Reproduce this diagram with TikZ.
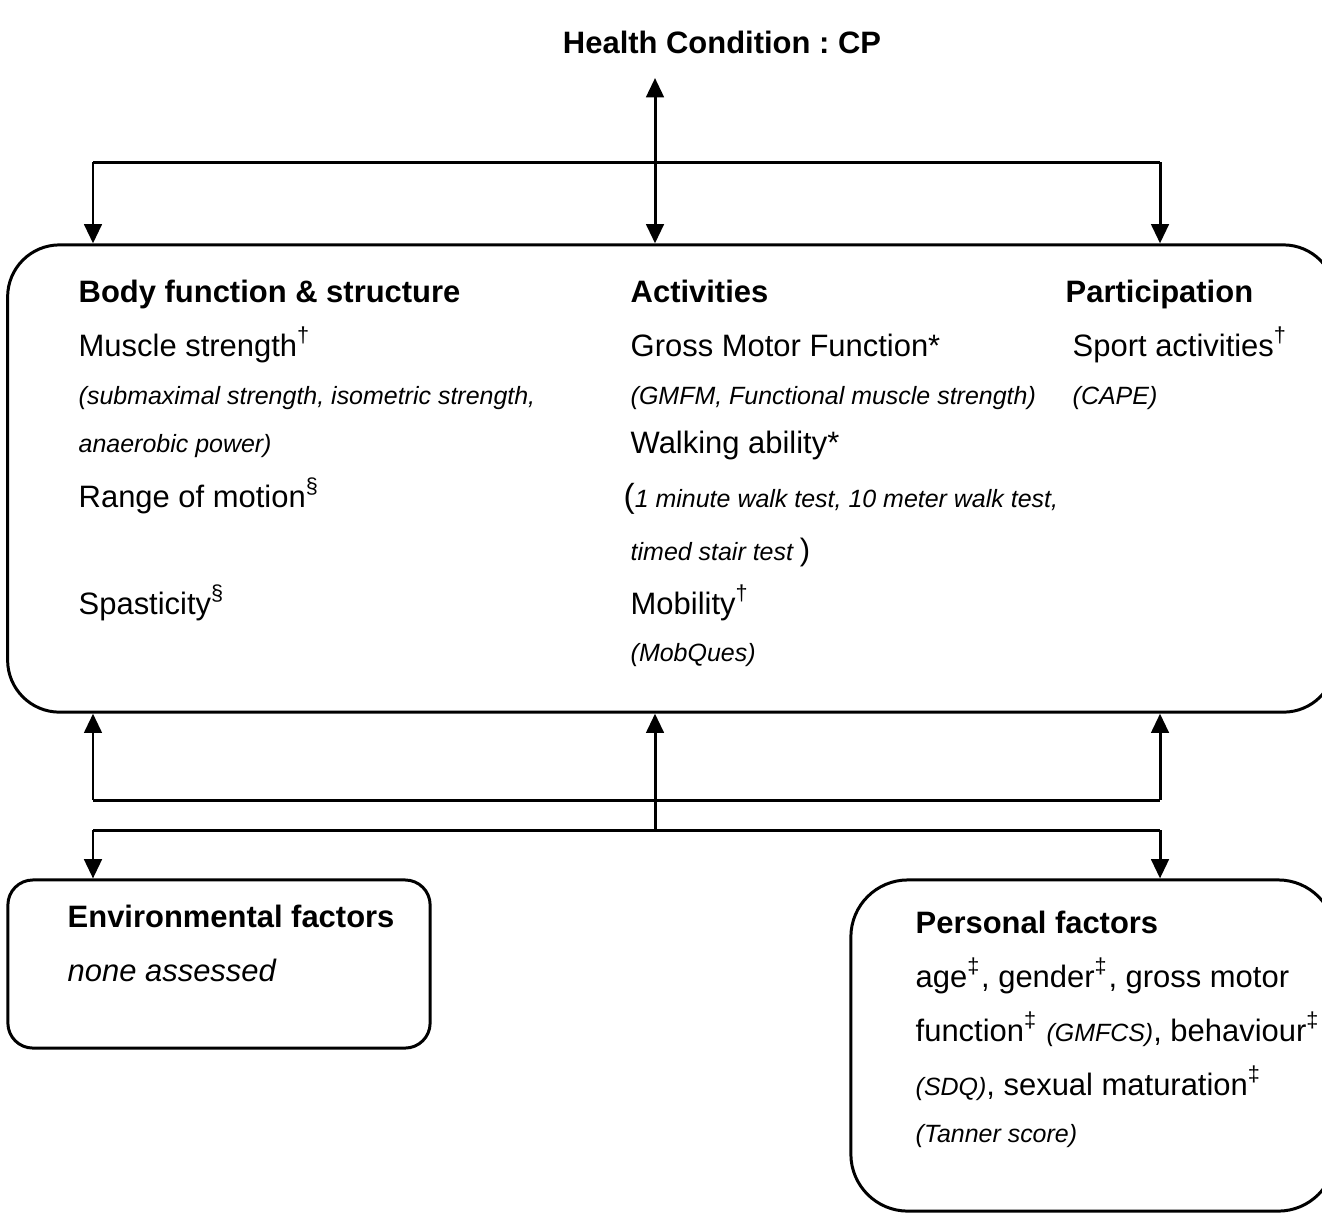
\documentclass[tikz,border=0pt]{standalone}
\usepackage{fontspec}
\setmainfont{Liberation Sans}
\usepackage{tikz}
\usetikzlibrary{arrows.meta,positioning,calc}
\tikzset{
  panel/.style={draw=black, line width=0.85pt, inner sep=0pt},
  head/.style={anchor=base west, inner sep=0pt, font=\fontsize{8.8}{10}\selectfont\bfseries},
  item/.style={anchor=base west, inner sep=0pt, font=\fontsize{8.8}{10}\selectfont},
  note/.style={anchor=base west, inner sep=0pt, font=\fontsize{7.1}{9}\selectfont\itshape},
  link/.style={line width=0.85pt},
  arrow/.style={-{Triangle[length=5.5pt,width=5pt]}, line width=0.85pt},
  twoway/.style={{Triangle[length=5.5pt,width=5pt]}-{Triangle[length=5.5pt,width=5pt]}, line width=0.85pt},
}
\frenchspacing

\begin{document}
\begin{tikzpicture}[x=0.01cm,y=-0.01cm]
      \useasboundingbox (0,0) rectangle (1322,1214);
      \clip (0,0) rectangle (1322,1214);

      % health condition
      \node[head, anchor=base] (hc) at (722,53) {Health Condition : CP};
      \coordinate (hcend) at (655,78);

      % boxes
      \node[panel, rounded corners=0.52cm, minimum width=13.27cm, minimum height=4.67cm] (icf) at (671.5,478.5) {};
      \node[panel, rounded corners=0.25cm, minimum width=4.22cm, minimum height=1.68cm] (env) at (219,964) {};
      \node[panel, rounded corners=0.57cm, minimum width=4.84cm, minimum height=3.31cm] (pers) at (1093,1045.5) {};

      % top connectors
      \coordinate (tl) at (93,162);
      \coordinate (tr) at (1160,162);
      \draw[link] (tl) -- (tr);
      \draw[arrow] (tl) -- (tl |- icf.north);
      \draw[arrow] (tr) -- (tr |- icf.north);
      \draw[twoway] (hcend) -- (hcend |- icf.north);

      % bottom connectors
      \coordinate (bl) at (93,800);
      \coordinate (br) at (1160,800);
      \coordinate (ml) at (93,830);
      \coordinate (mc) at (655,830);
      \coordinate (mr) at (1160,830);
      \draw[link] (bl) -- (br);
      \draw[link] (ml) -- (mr);
      \draw[arrow] (bl) -- (bl |- icf.south);
      \draw[arrow] (br) -- (br |- icf.south);
      \draw[arrow] (mc) -- (mc |- icf.south);
      \draw[arrow] (ml) -- (ml |- env.north);
      \draw[arrow] (mr) -- (mr |- pers.north);

      % body function & structure
      \node[head] (bfs) at (78,302) {Body function \& structure};
      \node[item] (bfs1) at (78,356) {Muscle strength\textsuperscript{†}};
      \node[note] (bfs2) at (78,404) {(submaximal strength, isometric strength,};
      \node[note] (bfs3) at (78,452) {anaerobic power)};
      \node[item] (bfs4) at (78,507) {Range of motion\textsuperscript{§}};
      \node[item] (bfs5) at (78,614) {Spasticity\textsuperscript{§}};

      % activities
      \node[head] (act) at (630,302) {Activities};
      \node[item] (act1) at (630,356) {Gross Motor Function*};
      \node[note] (act2) at (630,404) {(GMFM, Functional muscle strength)};
      \node[item] (act3) at (630,453) {Walking ability*};
      \node[note] (act4) at (623,507) {{\upshape\fontsize{9.5}{10}\selectfont(}1 minute walk test, 10 meter walk test,};
      \node[note] (act5) at (630,560) {timed stair test {\upshape\fontsize{8.8}{10}\selectfont)}};
      \node[item] (act6) at (630,614) {Mobility\textsuperscript{†}};
      \node[note] (act7) at (630,661) {(MobQues)};

      % participation
      \node[head] (par) at (1065,302) {Participation};
      \node[item] (par1) at (1072,356) {Sport activities\textsuperscript{†}};
      \node[note] (par2) at (1072,404) {(CAPE)};

      % environmental factors
      \node[head] (envh) at (67,927) {Environmental factors};
      \node[item, font=\fontsize{8.8}{10}\selectfont\itshape] (env1) at (67,981) {none assessed};

      % personal factors
      \node[head] (persh) at (915,933) {Personal factors};
      \node[item] (pers1) at (915,987) {age\textsuperscript{‡}, gender\textsuperscript{‡}, gross motor};
      \node[item] (pers2) at (915,1041) {function\textsuperscript{‡} {\itshape\fontsize{7.1}{9}\selectfont(GMFCS)}, behaviour\textsuperscript{‡}};
      \node[item] (pers3) at (915,1095) {{\itshape\fontsize{7.1}{9}\selectfont(SDQ)}, sexual maturation\textsuperscript{‡}};
      \node[note] (pers4) at (915,1142) {(Tanner score)};
    \end{tikzpicture}
\end{document}
